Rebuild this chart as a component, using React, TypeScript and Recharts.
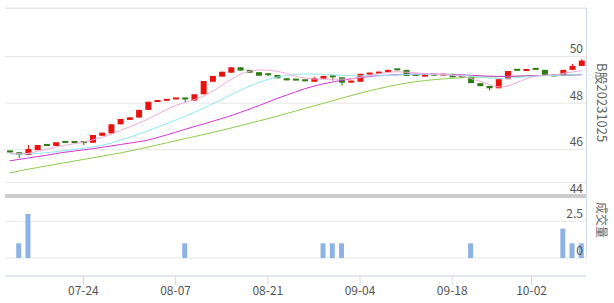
import React from 'react'
import {
  ComposedChart,
  Bar,
  Line,
  XAxis,
  YAxis,
  CartesianGrid
} from 'recharts'

// candle values (one per trading day)
const OPEN = [
  45.90, 45.89, 45.77, 45.98, 46.18, 46.16, 46.31, 46.31, 46.30, 46.30,
  46.60, 46.70, 47.09, 47.28, 47.38, 47.71, 48.05, 48.10, 48.16, 48.18,
  48.11, 48.38, 48.92, 49.14, 49.31, 49.54, 49.43, 49.33, 49.22, 49.21,
  49.07, 48.99, 48.96, 48.92, 49.05, 49.17, 49.11, 48.88, 48.92, 49.23,
  49.27, 49.33, 49.43, 49.43, 49.19, 49.14, 49.24, 49.18, 49.26, 49.17,
  49.14, 48.86, 48.74, 48.64, 49.03, 49.41, 49.38, 49.45, 49.43, 49.17,
  49.17, 49.43, 49.60
]
const CLOSE = [
  45.88, 45.77, 46.03, 46.20, 46.16, 46.32, 46.29, 46.29, 46.28, 46.63,
  46.73, 47.09, 47.32, 47.39, 47.71, 48.06, 48.07, 48.12, 48.18, 48.16,
  48.38, 48.95, 49.17, 49.35, 49.54, 49.40, 49.31, 49.18, 49.20, 49.07,
  48.98, 48.97, 48.94, 49.07, 49.17, 49.11, 48.88, 48.97, 49.26, 49.31,
  49.35, 49.43, 49.41, 49.17, 49.17, 49.26, 49.18, 49.26, 49.11, 49.10,
  48.86, 48.73, 48.64, 49.03, 49.38, 49.39, 49.47, 49.43, 49.17, 49.15,
  49.43, 49.60, 49.83
]
const HIGH = [
  45.96, 45.89, 46.20, 46.20, 46.18, 46.32, 46.31, 46.31, 46.30, 46.63,
  46.73, 47.09, 47.32, 47.39, 47.71, 48.06, 48.07, 48.12, 48.18, 48.18,
  48.38, 48.95, 49.17, 49.35, 49.54, 49.54, 49.43, 49.33, 49.27, 49.21,
  49.07, 48.99, 48.96, 49.13, 49.17, 49.17, 49.11, 48.97, 49.26, 49.31,
  49.35, 49.43, 49.43, 49.43, 49.19, 49.26, 49.24, 49.26, 49.26, 49.17,
  49.14, 48.86, 48.74, 49.03, 49.38, 49.41, 49.47, 49.45, 49.43, 49.17,
  49.43, 49.69, 49.89
]
const LOW = [
  45.86, 45.63, 45.77, 45.98, 46.16, 46.16, 46.29, 46.29, 46.20, 46.30,
  46.60, 46.70, 47.09, 47.28, 47.38, 47.71, 48.05, 48.10, 48.16, 48.04,
  48.11, 48.38, 48.92, 49.14, 49.31, 49.40, 49.31, 49.18, 49.16, 49.07,
  48.98, 48.97, 48.94, 48.92, 49.05, 48.97, 48.75, 48.88, 48.92, 49.23,
  49.27, 49.33, 49.41, 49.17, 49.17, 49.14, 49.18, 49.18, 49.11, 49.10,
  48.86, 48.73, 48.54, 48.64, 49.03, 49.39, 49.38, 49.43, 49.17, 49.15,
  49.17, 49.43, 49.60
]

// moving averages as drawn
const MA5 = [
  45.86, 45.82, 45.84, 45.93, 46.02, 46.11, 46.19, 46.26, 46.32, 46.42,
  46.53, 46.66, 46.82, 46.98, 47.14, 47.32, 47.52, 47.72, 47.90, 48.03,
  48.15, 48.30, 48.50, 48.76, 49.02, 49.24, 49.37, 49.43, 49.42, 49.37,
  49.28, 49.16, 49.08, 49.04, 49.03, 49.03, 49.03, 49.05, 49.10, 49.18,
  49.26, 49.32, 49.35, 49.33, 49.30, 49.27, 49.25, 49.23, 49.20, 49.16,
  49.06, 48.94, 48.80, 48.70, 48.74, 48.88, 49.04, 49.16, 49.20, 49.22,
  49.28, 49.34, 49.40
]
const MA10 = [
  45.81, 45.81, 45.82, 45.84, 45.87, 45.91, 45.96, 46.01, 46.06, 46.12,
  46.19, 46.28, 46.40, 46.53, 46.67, 46.81, 46.96, 47.11, 47.27, 47.43,
  47.60, 47.78, 47.97, 48.16, 48.36, 48.55, 48.73, 48.89, 49.02, 49.12,
  49.19, 49.23, 49.25, 49.25, 49.24, 49.22, 49.20, 49.18, 49.17, 49.17,
  49.18, 49.19, 49.21, 49.23, 49.24, 49.24, 49.23, 49.22, 49.21, 49.19,
  49.16, 49.12, 49.08, 49.06, 49.07, 49.10, 49.13, 49.16, 49.18, 49.19,
  49.20, 49.22, 49.25
]
const MA20 = [
  45.52, 45.58, 45.64, 45.70, 45.76, 45.83, 45.89, 45.94, 45.99, 46.04,
  46.10, 46.16, 46.22, 46.28, 46.34, 46.41, 46.52, 46.63, 46.75, 46.87,
  46.99, 47.10, 47.22, 47.34, 47.46, 47.60, 47.74, 47.89, 48.04, 48.20,
  48.34, 48.48, 48.62, 48.73, 48.83, 48.91, 48.98, 49.04, 49.10, 49.14,
  49.18, 49.20, 49.22, 49.24, 49.25, 49.25, 49.25, 49.24, 49.23, 49.22,
  49.20, 49.18, 49.16, 49.15, 49.15, 49.16, 49.17, 49.18, 49.19, 49.19,
  49.20, 49.21, 49.22
]
const MA60 = [
  45.00, 45.08, 45.16, 45.23, 45.30, 45.37, 45.44, 45.51, 45.58, 45.65,
  45.72, 45.79, 45.86, 45.94, 46.02, 46.11, 46.20, 46.29, 46.38, 46.47,
  46.56, 46.65, 46.74, 46.83, 46.93, 47.03, 47.13, 47.23, 47.33, 47.44,
  47.55, 47.66, 47.77, 47.88, 47.99, 48.10, 48.21, 48.32, 48.43, 48.53,
  48.62, 48.71, 48.79, 48.86, 48.92, 48.97, 49.01, 49.04, 49.07, 49.09,
  49.11, 49.12, 49.13, 49.14, 49.15, 49.16, 49.17, 49.18, 49.19, 49.20,
  49.21, 49.22, 49.23
]
const VOLUME = [
  0, 1, 3, 0, 0, 0, 0, 0, 0, 0,
  0, 0, 0, 0, 0, 0, 0, 0, 0, 1,
  0, 0, 0, 0, 0, 0, 0, 0, 0, 0,
  0, 0, 0, 0, 1, 1, 1, 0, 0, 0,
  0, 0, 0, 0, 0, 0, 0, 0, 0, 0,
  1, 0, 0, 0, 0, 0, 0, 0, 0, 0,
  2, 1, 1
]

// x-axis tick labels and where they sit (in candle index units)
const TICK_LABELS = ['07-24', '08-07', '08-21', '09-04', '09-18', '10-02']
const TICK_POS = [8, 18, 28, 38, 48, 56.6]
const PRICE_TICKS = [44, 46, 48, 50]
const VOL_TICKS = [0, 2.5]

const RED = '#e8120f'
const GREEN = '#2e7b12'
const GRID = '#e6e6e6'
const AXIS = '#d2dbe8'
const FONT = '"Noto Sans CJK SC", "Noto Sans", sans-serif'

const data = OPEN.map((open, i) => ({
  i,
  open,
  close: CLOSE[i],
  high: HIGH[i],
  low: LOW[i],
  range: [LOW[i], HIGH[i]],
  ma5: MA5[i],
  ma10: MA10[i],
  ma20: MA20[i],
  ma60: MA60[i],
  vol: VOLUME[i]
}))

const Candle = (props: any) => {
  const { x, y, width, height, payload } = props
  const { open, close, high, low } = payload
  const color = close >= open ? RED : GREEN
  const span = high - low
  const k = span > 0 ? height / span : 0
  const top = y + (high - Math.max(open, close)) * k
  const bot = y + (high - Math.min(open, close)) * k
  const h = Math.max(bot - top, 2)
  const cx = x + width / 2
  return (
    <g>
      <line x1={cx} x2={cx} y1={y} y2={y + height} stroke={color} strokeWidth={1} />
      <rect x={x} y={bot - h} width={width} height={h} fill={color} />
    </g>
  )
}

const RightTick = (props: any) => {
  const { x, y, payload } = props
  return (
    <text x={x} y={y - 6.5} textAnchor="end" dominantBaseline="middle"
      fontSize={12} fill="#555" fontFamily={FONT}>
      {payload.value}
    </text>
  )
}

const hLine = (top: number, color: string, h = 1) => (
  <div style={{ position: 'absolute', left: 5, top, width: 581, height: h, background: color }} />
)

export default function App() {
  return (
    <div style={{ position: 'absolute', left: 0, top: 0, width: 614, height: 303, background: '#fff', fontFamily: FONT }}>
      {hLine(8, GRID)}
      {hLine(182, GRID)}
      <div style={{ position: 'absolute', left: 0, top: 0 }}>
        <ComposedChart width={614} height={200} data={data}
          margin={{ top: 8, right: 28, left: 5, bottom: 3.8 }}>
          <CartesianGrid vertical={false} stroke={GRID} />
          <XAxis dataKey="i" type="number" domain={[-0.5, 62.5]} allowDataOverflow hide />
          <YAxis orientation="right" mirror domain={[44, 52.09]} allowDataOverflow
            ticks={PRICE_TICKS} interval={0} axisLine={false} tickLine={false} tickSize={0}
            tickMargin={3} tick={<RightTick />} />
          <Line dataKey="ma60" type="monotone" stroke="#8fcb4c" strokeWidth={1} dot={false} isAnimationActive={false} />
          <Line dataKey="ma20" type="monotone" stroke="#d435d4" strokeWidth={1} dot={false} isAnimationActive={false} />
          <Line dataKey="ma10" type="monotone" stroke="#8ee9f2" strokeWidth={1} dot={false} isAnimationActive={false} />
          <Line dataKey="ma5" type="monotone" stroke="#eeaad9" strokeWidth={1} dot={false} isAnimationActive={false} />
          <Bar dataKey="range" barSize={6} shape={<Candle />} isAnimationActive={false} />
        </ComposedChart>
      </div>
      <div style={{ position: 'absolute', left: 0, top: 190 }}>
        <ComposedChart width={614} height={113} data={data}
          margin={{ top: 7, right: 28, left: 5, bottom: 0 }}>
          <CartesianGrid vertical={false} stroke={GRID} />
          <XAxis dataKey="i" type="number" domain={[-0.5, 62.5]} allowDataOverflow
            ticks={TICK_POS} interval={0} tickFormatter={(v: number) => TICK_LABELS[TICK_POS.indexOf(v)]}
            stroke={AXIS} tickSize={9} tickMargin={1} height={27}
            tick={{ fontSize: 12, fill: '#555', fontFamily: FONT }} />
          <YAxis orientation="right" mirror domain={[-1.226, 4.155]} allowDataOverflow
            ticks={VOL_TICKS} interval={0} axisLine={false} tickLine={false} tickSize={0}
            tickMargin={3} tick={<RightTick />} />
          <Bar dataKey="vol" barSize={5} fill="#8cb3e3" isAnimationActive={false} />
        </ComposedChart>
      </div>
      {hLine(194, '#cccccc', 4)}
      <div style={{ position: 'absolute', left: 586, top: 8, width: 1, height: 250, background: AXIS }} />
      <svg width={614} height={303} style={{ position: 'absolute', left: 0, top: 0, pointerEvents: 'none' }}>
        <text transform="translate(597,63) rotate(90)" fontSize={13} fill="#666" fontFamily={FONT}>B股20231025</text>
        <text transform="translate(597,202) rotate(90)" fontSize={12} fill="#666" fontFamily={FONT}>成交量</text>
      </svg>
    </div>
  )
}
